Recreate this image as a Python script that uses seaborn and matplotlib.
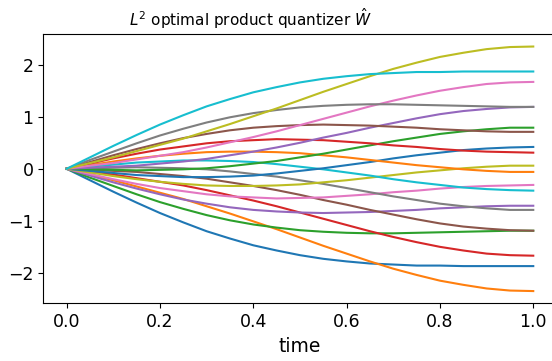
import numpy as np
import pandas as pd
import matplotlib
matplotlib.use("Agg")
import matplotlib.pyplot as plt
import seaborn as sns

# time grid
time = [0.0, 0.05, 0.1, 0.15, 0.2, 0.25, 0.3, 0.35, 0.4, 0.45, 0.5,
        0.55, 0.6, 0.65, 0.7, 0.75, 0.8, 0.85, 0.9, 0.95, 1.0]

# values of each quantizer path (tab10 colour order, cycled twice)
path01 = [0, -0.22, -0.44, -0.65, -0.85, -1.03, -1.20, -1.34, -1.47, -1.57, -1.66,
          -1.73, -1.78, -1.82, -1.84, -1.86, -1.86, -1.87, -1.87, -1.87, -1.87]
path02 = [0, -0.11, -0.22, -0.34, -0.46, -0.58, -0.72, -0.86, -1.01, -1.16, -1.32,
          -1.48, -1.63, -1.78, -1.92, -2.04, -2.15, -2.23, -2.30, -2.34, -2.35]
path03 = [0, -0.17, -0.33, -0.49, -0.64, -0.77, -0.89, -0.99, -1.07, -1.13, -1.18,
          -1.21, -1.23, -1.24, -1.24, -1.23, -1.22, -1.21, -1.20, -1.19, -1.19]
path04 = [0, -0.06, -0.11, -0.18, -0.25, -0.32, -0.41, -0.51, -0.61, -0.72, -0.84,
          -0.96, -1.08, -1.20, -1.31, -1.41, -1.50, -1.57, -1.63, -1.66, -1.67]
path05 = [0, -0.13, -0.26, -0.38, -0.49, -0.59, -0.67, -0.74, -0.79, -0.82, -0.84,
          -0.85, -0.84, -0.83, -0.81, -0.79, -0.76, -0.74, -0.72, -0.71, -0.71]
path06 = [0, -0.02, -0.04, -0.06, -0.10, -0.14, -0.19, -0.26, -0.33, -0.41, -0.50,
          -0.60, -0.69, -0.79, -0.88, -0.97, -1.05, -1.11, -1.15, -1.18, -1.19]
path07 = [0, -0.10, -0.20, -0.29, -0.37, -0.43, -0.49, -0.53, -0.55, -0.57, -0.56,
          -0.55, -0.52, -0.49, -0.45, -0.42, -0.38, -0.35, -0.33, -0.32, -0.31]
path08 = [0, 0.01, 0.02, 0.03, 0.02, 0.01, -0.01, -0.05, -0.10, -0.15, -0.22,
          -0.29, -0.37, -0.45, -0.53, -0.60, -0.67, -0.72, -0.76, -0.79, -0.79]
path09 = [0, -0.07, -0.14, -0.20, -0.25, -0.29, -0.32, -0.33, -0.33, -0.32, -0.30,
          -0.26, -0.22, -0.17, -0.12, -0.07, -0.03, 0.01, 0.04, 0.06, 0.06]
path10 = [0, 0.04, 0.08, 0.12, 0.14, 0.16, 0.16, 0.15, 0.13, 0.09, 0.04,
          -0.01, -0.07, -0.13, -0.20, -0.26, -0.31, -0.36, -0.39, -0.41, -0.42]
path11 = [0, -0.04, -0.08, -0.12, -0.14, -0.16, -0.16, -0.15, -0.13, -0.09, -0.04,
          0.01, 0.07, 0.13, 0.20, 0.26, 0.31, 0.36, 0.39, 0.41, 0.42]
path12 = [0, 0.07, 0.14, 0.20, 0.25, 0.29, 0.32, 0.33, 0.33, 0.32, 0.30,
          0.26, 0.22, 0.17, 0.12, 0.07, 0.03, -0.01, -0.04, -0.06, -0.06]
path13 = [0, -0.01, -0.02, -0.03, -0.02, -0.01, 0.01, 0.05, 0.10, 0.15, 0.22,
          0.29, 0.37, 0.45, 0.53, 0.60, 0.67, 0.72, 0.76, 0.79, 0.79]
path14 = [0, 0.10, 0.20, 0.29, 0.37, 0.43, 0.49, 0.53, 0.55, 0.57, 0.56,
          0.55, 0.52, 0.49, 0.45, 0.42, 0.38, 0.35, 0.33, 0.32, 0.31]
path15 = [0, 0.02, 0.04, 0.06, 0.10, 0.14, 0.19, 0.26, 0.33, 0.41, 0.50,
          0.60, 0.69, 0.79, 0.88, 0.97, 1.05, 1.11, 1.15, 1.18, 1.19]
path16 = [0, 0.13, 0.26, 0.38, 0.49, 0.59, 0.67, 0.74, 0.79, 0.82, 0.84,
          0.85, 0.84, 0.83, 0.81, 0.79, 0.76, 0.74, 0.72, 0.71, 0.71]
path17 = [0, 0.06, 0.11, 0.18, 0.25, 0.32, 0.41, 0.51, 0.61, 0.72, 0.84,
          0.96, 1.08, 1.20, 1.31, 1.41, 1.50, 1.57, 1.63, 1.66, 1.67]
path18 = [0, 0.17, 0.33, 0.49, 0.64, 0.77, 0.89, 0.99, 1.07, 1.13, 1.18,
          1.21, 1.23, 1.24, 1.24, 1.23, 1.22, 1.21, 1.20, 1.19, 1.19]
path19 = [0, 0.11, 0.22, 0.34, 0.46, 0.58, 0.72, 0.86, 1.01, 1.16, 1.32,
          1.48, 1.63, 1.78, 1.92, 2.04, 2.15, 2.23, 2.30, 2.34, 2.35]
path20 = [0, 0.22, 0.44, 0.65, 0.85, 1.03, 1.20, 1.34, 1.47, 1.57, 1.66,
          1.73, 1.78, 1.82, 1.84, 1.86, 1.86, 1.87, 1.87, 1.87, 1.87]

paths = [path01, path02, path03, path04, path05, path06, path07, path08, path09, path10,
         path11, path12, path13, path14, path15, path16, path17, path18, path19, path20]

rows = []
for k, p in enumerate(paths):
    for t, v in zip(time, p):
        rows.append({"time": t, "value": v, "path": k})
df = pd.DataFrame(rows)

palette = sns.color_palette("tab10", 10) * 2

fig = plt.figure(figsize=(5.52, 3.61), dpi=100)
ax = fig.add_axes([43.3 / 552, 57.7 / 361, 513.3 / 552, 269 / 361])
sns.lineplot(data=df, x="time", y="value", hue="path", palette=palette,
             estimator=None, legend=False, linewidth=1.5, ax=ax)
ax.set_xticks([0.0, 0.2, 0.4, 0.6, 0.8, 1.0])
ax.set_yticks([-2, -1, 0, 1, 2])
ax.tick_params(labelsize=12.5)
ax.set_xlabel("time", fontsize=13.5)
ax.set_ylabel("")
ax.set_title(r"$L^2$ optimal product quantizer $\hat{W}$", fontsize=11,
             x=(250 - 43.3) / 513.3)
fig.savefig("out.png", dpi=100)
